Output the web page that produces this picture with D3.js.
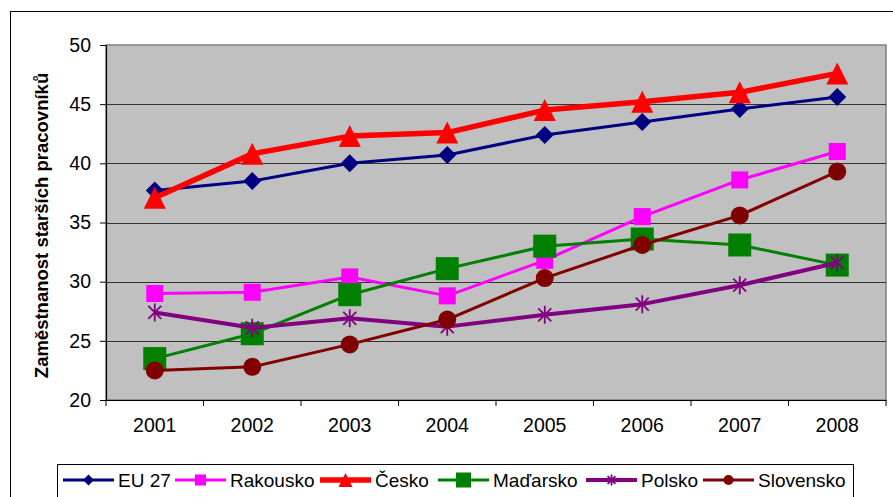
<!DOCTYPE html>
<html>
<head>
<meta charset="utf-8">
<script src="https://cdn.jsdelivr.net/npm/d3@7"></script>
<style>
  html, body { margin: 0; padding: 0; background: #ffffff; }
  svg { display: block; font-family: "Liberation Sans", Arial, sans-serif; }
</style>
</head>
<body>
<svg id="chart" width="893" height="497"></svg>
<script>
// Employment rate of older workers (55–64), per cent
const years = ["2001", "2002", "2003", "2004", "2005", "2006", "2007", "2008"];
const yTicks = [20, 25, 30, 35, 40, 45, 50];
const seriesNames = ["EU 27", "Rakousko", "Česko", "Maďarsko", "Polsko", "Slovensko"];

const eu27      = [37.7, 38.5, 40.0, 40.7, 42.4, 43.5, 44.6, 45.6];
const rakousko  = [29.0, 29.1, 30.4, 28.8, 31.8, 35.5, 38.6, 41.0];
const cesko     = [37.1, 40.8, 42.3, 42.6, 44.5, 45.2, 46.0, 47.6];
const madarsko  = [23.5, 25.6, 28.9, 31.1, 33.0, 33.6, 33.1, 31.4];
const polsko    = [27.4, 26.1, 26.9, 26.2, 27.2, 28.1, 29.7, 31.6];
const slovensko = [22.5, 22.8, 24.7, 26.8, 30.3, 33.1, 35.6, 39.3];

const seriesValues = [eu27, rakousko, cesko, madarsko, polsko, slovensko];

const FONT = "'Liberation Sans', Arial, sans-serif";

// visual style of each series
const styles = [
  { color: "#000080", width: 3,   marker: "diamond",  size: 18, lsize: 11 },
  { color: "#FF00FF", width: 3,   marker: "square",   size: 17, lsize: 11 },
  { color: "#FF0000", width: 5.5, marker: "triangle", size: 22, lsize: 14 },
  { color: "#008000", width: 3,   marker: "square",   size: 23, lsize: 15 },
  { color: "#800080", width: 4,   marker: "asterisk", size: 18, lsize: 11 },
  { color: "#800000", width: 3,   marker: "circle",   size: 18, lsize: 10 }
];

// legend entry starting positions
const legendX = [63, 175, 320, 438, 586, 703];

const svg = d3.select("#chart");
const plot = { left: 106, right: 886, top: 45, bottom: 400 };

// outer chart frame
svg.append("rect")
  .attr("x", 10.5).attr("y", 11.5)
  .attr("width", 900).attr("height", 500)
  .attr("fill", "#ffffff").attr("stroke", "#000").attr("stroke-width", 1);

const x = d3.scaleBand().domain(years).range([plot.left, plot.right]).padding(0);
const y = d3.scaleLinear().domain([20, 50]).range([plot.bottom, plot.top]);

// plot area background
svg.append("rect")
  .attr("x", plot.left).attr("y", plot.top)
  .attr("width", plot.right - plot.left).attr("height", plot.bottom - plot.top)
  .attr("fill", "#C0C0C0").attr("stroke", "#808080").attr("stroke-width", 1.5);

// horizontal gridlines
svg.append("g").selectAll("line")
  .data(yTicks.filter(t => t > 20 && t < 50))
  .join("line")
  .attr("x1", plot.left).attr("x2", plot.right)
  .attr("y1", d => Math.round(y(d)) + 0.5).attr("y2", d => Math.round(y(d)) + 0.5)
  .attr("stroke", "#333").attr("stroke-width", 1.2);

// y axis
const yAxis = svg.append("g")
  .attr("transform", `translate(${plot.left},0)`)
  .call(d3.axisLeft(y).tickValues(yTicks).tickSize(6).tickPadding(9).tickSizeOuter(0));
yAxis.select(".domain").attr("stroke", "#000").attr("stroke-width", 1.2);
yAxis.selectAll(".tick line").attr("stroke", "#000");
yAxis.selectAll(".tick text").attr("font-size", 19.5).attr("fill", "#000")
  .attr("font-family", FONT);

// x axis with ticks between categories
const xAxis = svg.append("g")
  .attr("transform", `translate(0,${plot.bottom})`)
  .call(d3.axisBottom(x).tickSize(0).tickPadding(18).tickSizeOuter(0));
xAxis.select(".domain").attr("stroke", "#000").attr("stroke-width", 1.2);
xAxis.selectAll(".tick text").attr("font-size", 19.5).attr("fill", "#000")
  .attr("font-family", FONT);
xAxis.append("g").selectAll("line")
  .data(years.concat(["end"]))
  .join("line")
  .attr("x1", (d, i) => plot.left + i * x.bandwidth())
  .attr("x2", (d, i) => plot.left + i * x.bandwidth())
  .attr("y1", 0).attr("y2", 6)
  .attr("stroke", "#000").attr("stroke-width", 1);

// y axis title
svg.append("text")
  .attr("transform", `translate(48,${(plot.top + plot.bottom) / 2 + 3}) rotate(-90)`)
  .attr("text-anchor", "middle")
  .attr("font-family", FONT)
  .attr("font-size", 18.5).attr("font-weight", "bold").attr("fill", "#000")
  .text("Zaměstnanost starších pracovníků");

// marker drawing
function drawMarker(g, kind, size, color) {
  const h = size / 2;
  if (kind === "diamond") {
    g.append("path").attr("d", `M0,${-h}L${h},0L0,${h}L${-h},0Z`).attr("fill", color);
  } else if (kind === "square") {
    g.append("rect").attr("x", -h).attr("y", -h).attr("width", size).attr("height", size).attr("fill", color);
  } else if (kind === "triangle") {
    g.append("path").attr("d", `M0,${-h}L${h},${h}L${-h},${h}Z`).attr("fill", color);
  } else if (kind === "circle") {
    g.append("circle").attr("r", h).attr("fill", color);
  } else if (kind === "asterisk") {
    const d = h * 0.72;
    g.append("path")
      .attr("d", `M0,${-h}V${h}M${-d},${-d}L${d},${d}M${-d},${d}L${d},${-d}`)
      .attr("stroke", color).attr("stroke-width", 1.8).attr("fill", "none");
  }
}

const line = d3.line()
  .x((d, i) => x(years[i]) + x.bandwidth() / 2)
  .y(d => y(d));

seriesValues.forEach((vals, si) => {
  const st = styles[si];
  const g = svg.append("g").attr("class", "series");
  g.append("path").datum(vals)
    .attr("d", line)
    .attr("fill", "none")
    .attr("stroke", st.color)
    .attr("stroke-width", st.width)
    .attr("stroke-linejoin", "round");
  vals.forEach((v, i) => {
    const m = g.append("g")
      .attr("transform", `translate(${x(years[i]) + x.bandwidth() / 2},${y(v)})`);
    drawMarker(m, st.marker, st.size, st.color);
  });
});

// legend
const legend = svg.append("g");
legend.append("rect")
  .attr("x", 57.5).attr("y", 464.5).attr("width", 796).attr("height", 60)
  .attr("fill", "#ffffff").attr("stroke", "#000").attr("stroke-width", 1);

const ly = 480;
seriesNames.forEach((name, si) => {
  const st = styles[si];
  const lx = legendX[si];
  const g = legend.append("g");
  g.append("line")
    .attr("x1", lx).attr("x2", lx + 51).attr("y1", ly).attr("y2", ly)
    .attr("stroke", st.color).attr("stroke-width", st.width);
  const m = g.append("g").attr("transform", `translate(${lx + 25.5},${ly})`);
  drawMarker(m, st.marker, st.lsize, st.color);
  g.append("text")
    .attr("x", lx + 55).attr("y", ly + 7)
    .attr("font-family", FONT)
    .attr("font-size", 19).attr("fill", "#000")
    .text(name);
});
</script>
</body>
</html>
